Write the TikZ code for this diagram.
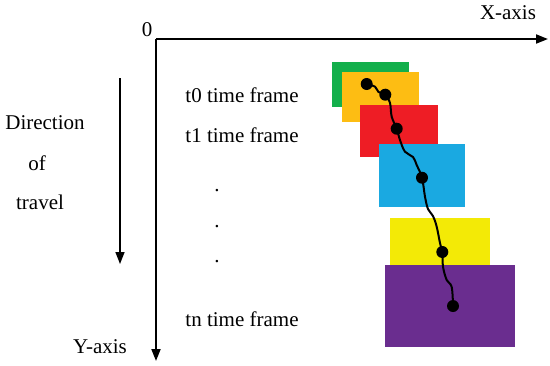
\documentclass[tikz,border=0pt]{standalone}
\usepackage{fontspec}
\setmainfont{Liberation Serif}
\usetikzlibrary{arrows.meta}
\definecolor{frgreen}{HTML}{13AF4B}
\definecolor{frorange}{HTML}{FDBD13}
\definecolor{frred}{HTML}{EE1D25}
\definecolor{frblue}{HTML}{1AA9E1}
\definecolor{fryellow}{HTML}{F3EA06}
\definecolor{frpurple}{HTML}{6A2D8F}
\begin{document}
\begin{tikzpicture}[
  x=1pt, y=-1pt,
  txt/.style={font=\fontsize{21}{24}\selectfont, inner sep=0pt},
  framebox/.style={anchor=north west, inner sep=0pt, outer sep=0pt},
  axis/.style={-{Triangle[length=12pt,width=9pt]}, line width=1.8pt},
  track/.style={line width=2pt},
  blob/.style={circle, fill=black, minimum size=12pt, inner sep=0pt}
]
\useasboundingbox[fill=white] (0,0) rectangle (550,365);

% time frames
\node[framebox, fill=frgreen, minimum width=77pt, minimum height=45pt] (f0a) at (332,62) {};
\node[framebox, fill=frorange, minimum width=77pt, minimum height=50pt] (f0) at (342,72) {};
\node[framebox, fill=frred, minimum width=78pt, minimum height=52pt] (f1) at (360,105) {};
\node[framebox, fill=frblue, minimum width=86pt, minimum height=63pt] (f2) at (379,144) {};
\node[framebox, fill=fryellow, minimum width=100pt, minimum height=47pt] (f3) at (390,218) {};
\node[framebox, fill=frpurple, minimum width=130pt, minimum height=82pt] (fn) at (385,265) {};

% positions along the track
\coordinate (p0) at (366.7,84);
\coordinate (p1) at (385.3,94.7);
\coordinate (p2) at (396.7,128.7);
\coordinate (p3) at (422,177.7);
\coordinate (p4) at (442.3,252);
\coordinate (p5) at (453,306);

\draw[track] plot[smooth, tension=0.6] coordinates {(p0) (375,86.7) (378.5,92) (p1) (390,103) (391.7,116.7) (p2) (400,140) (405,151.7) (413,157) (416.7,165) (p3) (425,196.7) (428,209) (433,216) (436.7,226.7) (440,243) (p4) (443,266.7) (446.7,280) (451.7,287) (p5)};

\foreach \p in {p0,p1,p2,p3,p4,p5}
  \node[blob] at (\p) {};

% axes
\coordinate (origin) at (156,39);
\coordinate (xend) at (548,39);
\coordinate (yend) at (156,361);
\draw[axis] (origin) -- (xend);
\draw[axis] (origin) -- (yend);
\node[txt] (zero) at (147,30) {0};
\node[txt] (xlab) at (508,13) {X-axis};
\node[txt] (ylab) at (100,347) {Y-axis};

% direction of travel
\coordinate (dtop) at (120,78);
\coordinate (dbot) at (120,264);
\draw[axis, line width=1.5pt] (dtop) -- (dbot);
\node[txt] (dir) at (45,123) {Direction};
\node[txt] (of) at (37,163) {of};
\node[txt] (trav) at (40,202) {travel};

% frame labels
\node[txt] (t0) at (242,95) {t0 time frame};
\node[txt] (t1) at (242,135) {t1 time frame};
\node[txt] (tn) at (242,319) {tn time frame};
\foreach \y in {191,227,262}
  \node[txt] at (217,\y) {.};
\end{tikzpicture}
\end{document}
